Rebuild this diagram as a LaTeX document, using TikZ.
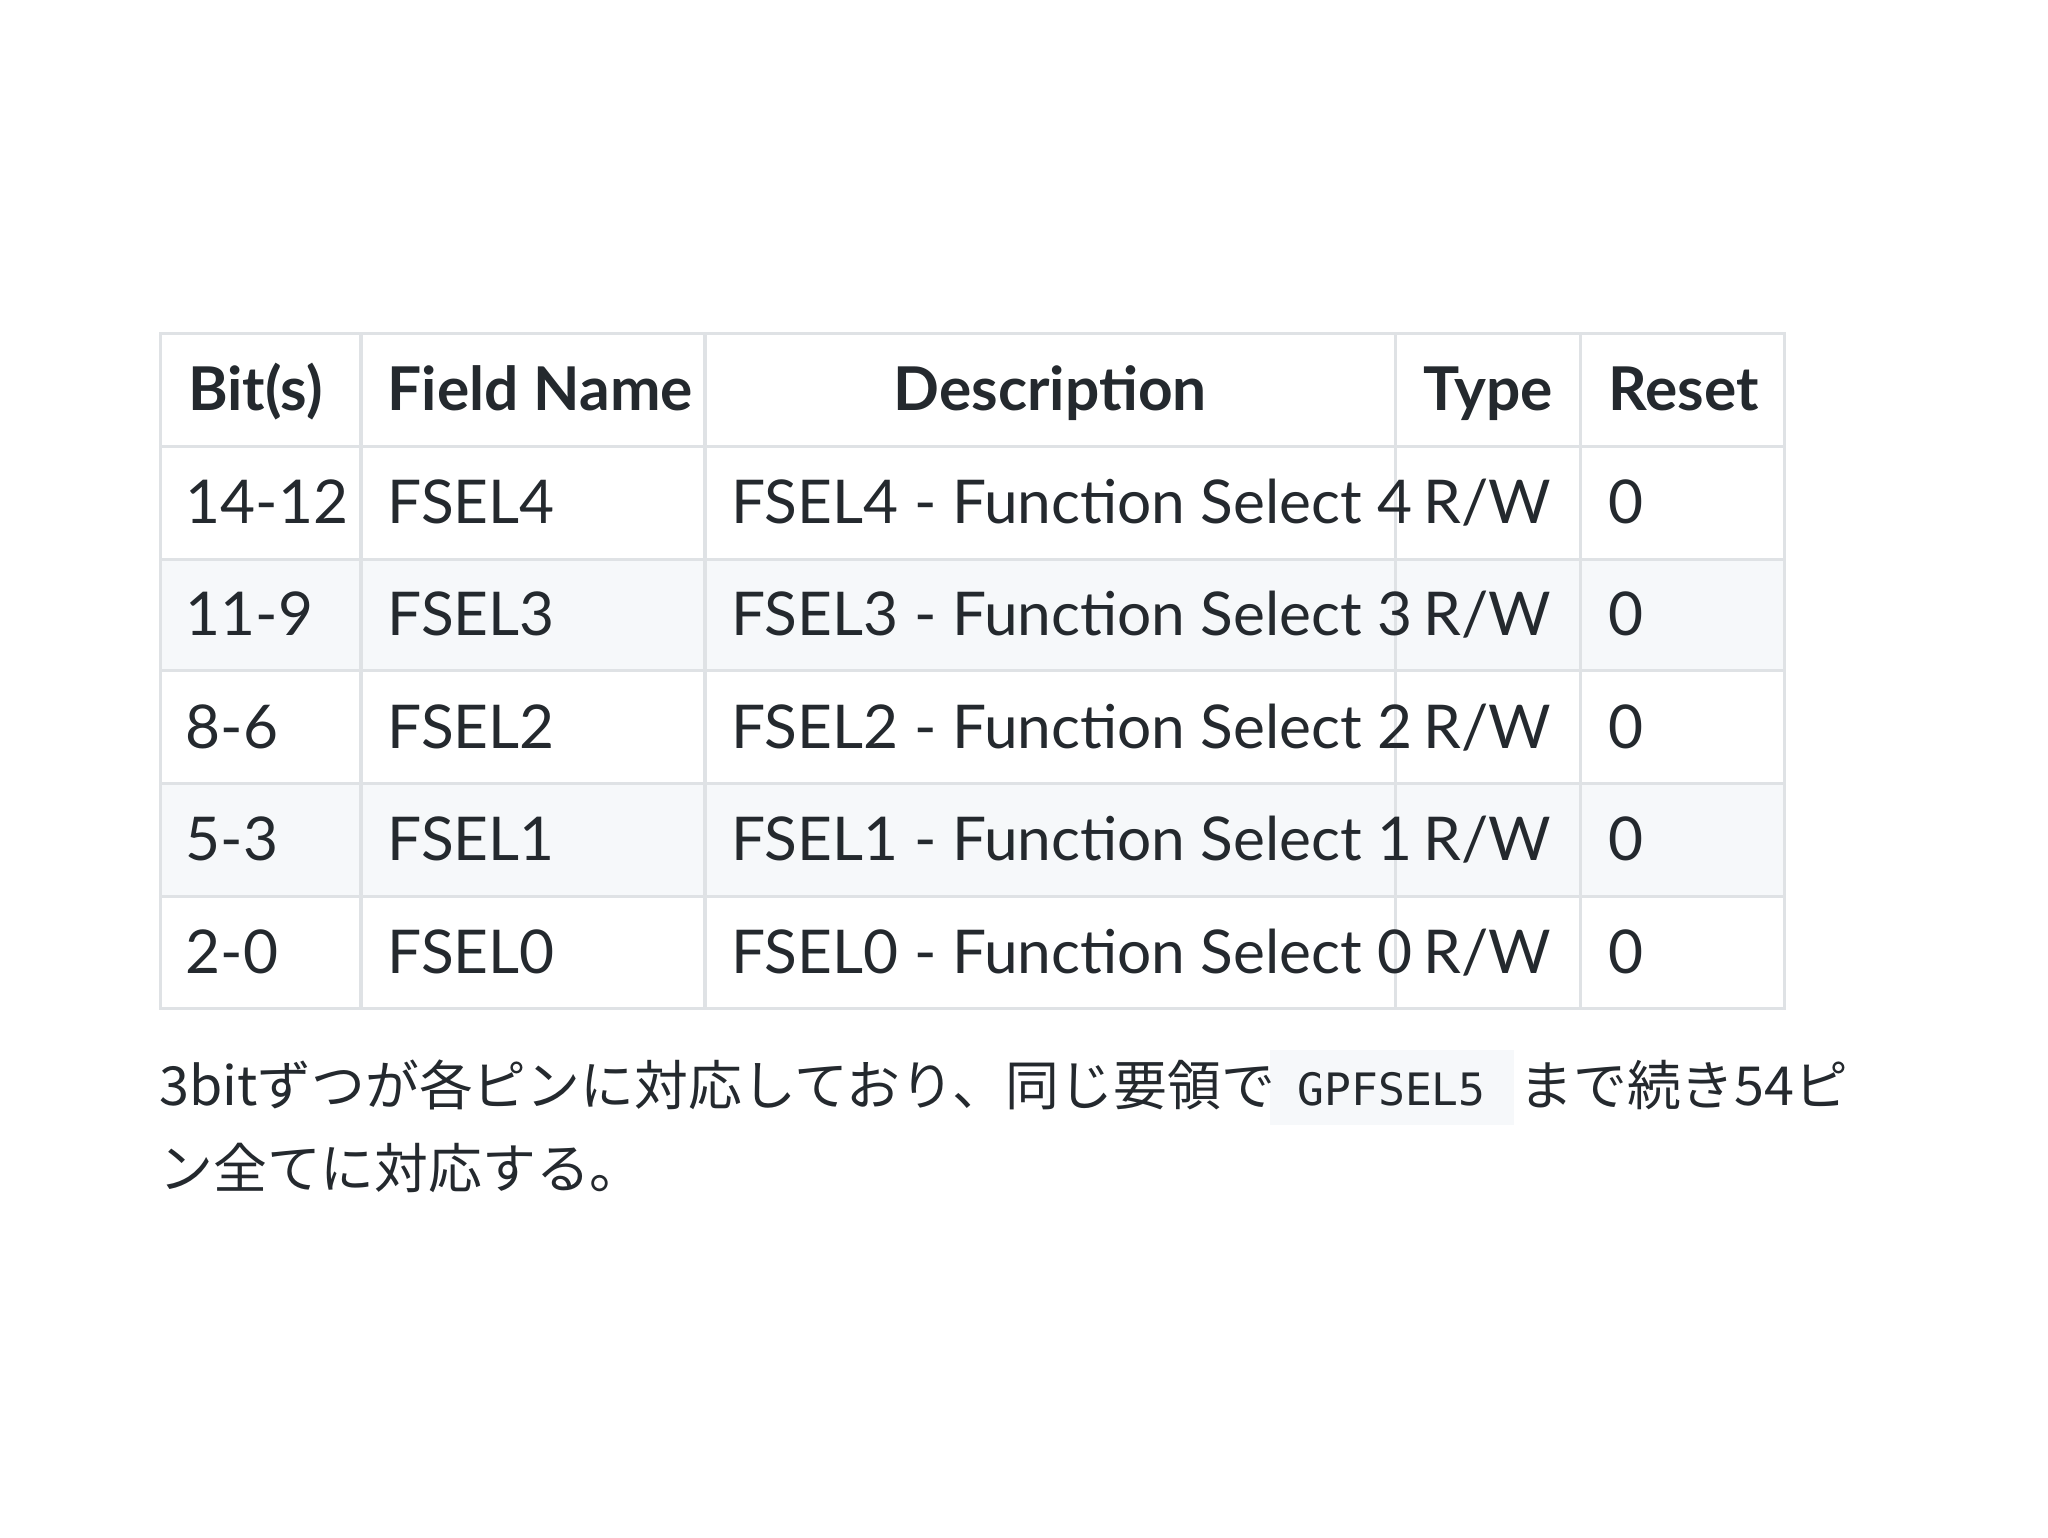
\documentclass[tikz,border=0pt]{standalone}
\usepackage{fontspec}
\setmainfont{Lato}
\newfontfamily\cjk{Noto Sans CJK JP}
\newfontfamily\codefont{DejaVu Sans Mono}
\definecolor{bord}{HTML}{DFE2E5}
\definecolor{rowgray}{HTML}{F6F8FA}
\definecolor{txt}{HTML}{24292E}
\begin{document}
\begin{tikzpicture}[x=0.5pt,y=-0.5pt,
  cell/.style={anchor=base west,inner sep=0,text=txt,font=\fontsize{23}{26}\selectfont},
  head/.style={cell,font=\fontsize{23}{26}\selectfont\bfseries},
  para/.style={anchor=base west,inner sep=0,text=txt,font=\cjk\fontsize{20.5}{24}\selectfont}]
\useasboundingbox (0,0) rectangle (1560,1171);
\fill[white] (0,0) rectangle (1560,1171);
\fill[rowgray] (122,426) rectangle (1359,511);
\fill[rowgray] (122,597) rectangle (1359,683);
\draw[bord,line width=1.2pt] (122,254) rectangle (1359,768);
\foreach \y in {340,426,511,597,683} \draw[bord,line width=1.2pt] (122,\y) -- (1359,\y);
\foreach \x in {275,537,1063,1204} \draw[bord,line width=1.2pt] (\x,254) -- (\x,768);
\node[head] (h1) at (143,313) {Bit(s)};
\node[head] (h2) at (295,313) {Field Name};
\node[head,anchor=base] (h3) at (800,313) {Description};
\node[head] (h4) at (1084,313) {Type};
\node[head] (h5) at (1225,313) {Reset};
\foreach \b/\f/\n [count=\i] in {14-12/FSEL4/4,11-9/FSEL3/3,8-6/FSEL2/2,5-3/FSEL1/1,2-0/FSEL0/0}{
  \pgfmathsetmacro\yy{313+85.7*\i}
  \node[cell] (b\i) at (141,\yy) {\b};
  \node[cell] (f\i) at (295,\yy) {\f};
  \node[cell] (d\i) at (557,\yy) {\f\ - Function Select \n};
  \node[cell] (t\i) at (1084,\yy) {R/W};
  \node[cell] (r\i) at (1225,\yy) {0};
}
\fill[rowgray] (967,800) rectangle (1153,857);
\node[para] (p1) at (121,842) {3bitずつが各ピンに対応しており、同じ要領で};
\node[anchor=base,inner sep=0,text=txt,font=\codefont\fontsize{17}{20}\selectfont] (code) at (1060,842) {GPFSEL5};
\node[para] (p2) at (1157,842) {まで続き54ピ};
\node[para] (p3) at (121,905) {ン全てに対応する。};
\end{tikzpicture}
\end{document}
